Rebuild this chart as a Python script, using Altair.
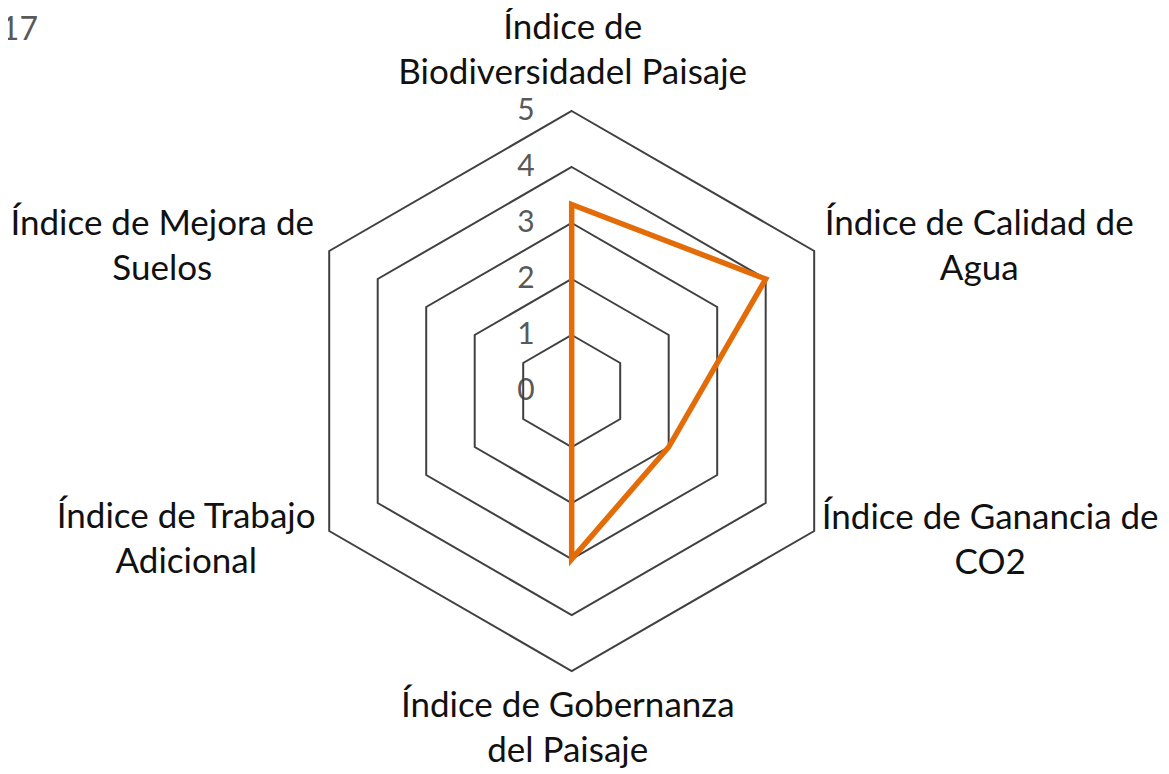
import math
import altair as alt
import pandas as pd

# ---------------- data ----------------
title_text = "2017"
categories = [
    "Índice de\nBiodiversidadel Paisaje",
    "Índice de Calidad de\nAgua",
    "Índice de Ganancia de\nCO2",
    "Índice de Gobernanza\ndel Paisaje",
    "Índice de Trabajo\nAdicional",
    "Índice de Mejora de\nSuelos",
]
values = [3.33, 4.0, 2.0, 3.0, 0.0, 0.0]
tick_values = [0, 1, 2, 3, 4, 5]

# ---------------- layout / style ----------------
W, H = 1153, 760          # plot area in px (autosize none, padding 0)
S = 56.0                  # px per unit of radius
CX, CY = 563.7, 383.0     # radar centre in plot px
FONT = "Lato"
LINE_H = 45
# pixel nudges of each category label block from its r=5 vertex (dx right, dy down)
label_nudges = [(1, -61), (165, -5), (176, 9), (-4, 57), (-143, 8), (-167, -5)]
RING_COLOR = "#404040"
LINE_COLOR = "#E36C09"
TICK_COLOR = "#595959"
TEXT_COLOR = "#111111"

n = len(categories)
angles = [math.radians(90 - 360 * i / n) for i in range(n)]
rmax = max(tick_values)

xs = alt.Scale(domain=[-CX / S, (W - CX) / S], nice=False, zero=False)
ys = alt.Scale(domain=[-(H - CY) / S, CY / S], nice=False, zero=False)

rings = pd.DataFrame([
    {"ring": r, "k": i, "x": r * math.cos(a), "y": r * math.sin(a)}
    for r in tick_values if r > 0
    for i, a in enumerate(angles)
])
series = pd.DataFrame([
    {"k": i, "cat": c, "v": v, "x": v * math.cos(a), "y": v * math.sin(a)}
    for i, (c, v, a) in enumerate(zip(categories, values, angles))
])
ticks_df = pd.DataFrame({"label": [str(t) for t in tick_values],
                         "x": [0.0] * len(tick_values),
                         "y": [float(t) for t in tick_values]})
labels_df = pd.DataFrame([
    {"label": c,
     "x": rmax * math.cos(a) + nd[0] / S,
     "y": rmax * math.sin(a) - nd[1] / S}
    for c, a, nd in zip(categories, angles, label_nudges)
])
title_df = pd.DataFrame({"label": [title_text]})

X = lambda: alt.X("x:Q", scale=xs, axis=None)
Y = lambda: alt.Y("y:Q", scale=ys, axis=None)

tick_layer = alt.Chart(ticks_df).mark_text(
    align="right", baseline="middle", dx=-37, font=FONT, fontSize=30, color=TICK_COLOR
).encode(x=X(), y=Y(), text="label:N")

ring_layer = alt.Chart(rings).mark_line(
    interpolate="linear-closed", color=RING_COLOR, strokeWidth=2
).encode(x=X(), y=Y(), detail="ring:N", order="k:Q")

series_layer = alt.Chart(series).mark_line(
    interpolate="linear-closed", color=LINE_COLOR, strokeWidth=5.5, strokeJoin="miter"
).encode(x=X(), y=Y(), order="k:Q")

label_layer = alt.Chart(labels_df).mark_text(
    align="center", baseline="middle", lineBreak="\n", lineHeight=LINE_H,
    dy=-LINE_H / 2, font=FONT, fontSize=35, color=TEXT_COLOR
).encode(x=X(), y=Y(), text="label:N")

title_layer = alt.Chart(title_df).mark_text(
    align="right", baseline="middle", font=FONT, fontSize=32, color=TICK_COLOR
).encode(x=alt.value(30), y=alt.value(22), text="label:N")

chart = alt.layer(
    tick_layer, ring_layer, series_layer, label_layer, title_layer
).properties(
    width=W, height=H, padding=0,
    autosize=alt.AutoSizeParams(type="none"),
    background="white",
).configure_view(stroke=None)

chart.save("out.html", embed_options={"renderer": "svg", "actions": False})
